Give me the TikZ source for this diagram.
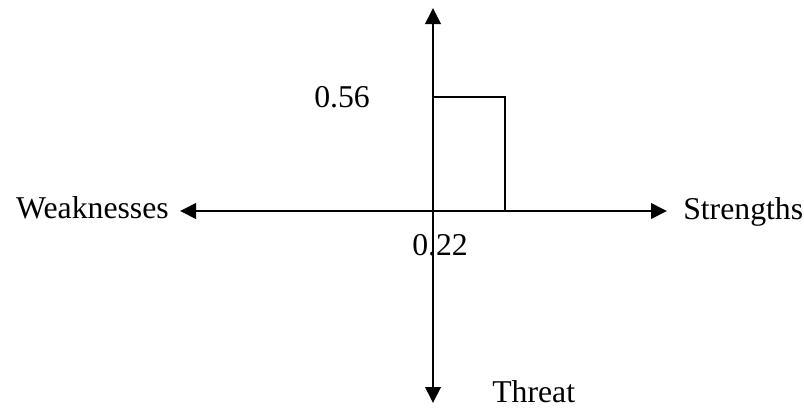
\documentclass[tikz,border=0pt]{standalone}
\usepackage{fontspec}
\setmainfont{Liberation Serif}
\usetikzlibrary{arrows.meta}

\begin{document}
\begin{tikzpicture}[
  x=0.75pt, y=-0.75pt,
  every node/.style={font=\fontsize{23.8}{29}\selectfont, inner sep=0pt},
  axis/.style={line width=2pt, {Triangle[length=12pt, width=11.5pt]}-{Triangle[length=12pt, width=11.5pt]}},
  bar/.style={line width=0.9pt},
  vlabel/.style={anchor=base west}
]

\useasboundingbox (0,0) rectangle (804,408);

% ejes
\coordinate (origin) at (433,211);
\coordinate (top) at (433,8);
\coordinate (bottom) at (433,403);
\coordinate (left) at (180,211);
\coordinate (right) at (667,211);
\coordinate (barcorner) at (505,97);

\draw[bar] (origin) rectangle (barcorner);
\draw[axis] (left) -- (right);
\draw[axis] (bottom) -- (top);

\node[anchor=base east] (weak) at (169,218) {Weaknesses};
\node[anchor=base west] (strong) at (683,219) {Strengths};
\node[anchor=base west] (threat) at (492,402) {Threat};
\node[vlabel] (v56) at (314,107) {0.56};
\node[vlabel] (v22) at (412,255) {0.22};

\end{tikzpicture}
\end{document}
